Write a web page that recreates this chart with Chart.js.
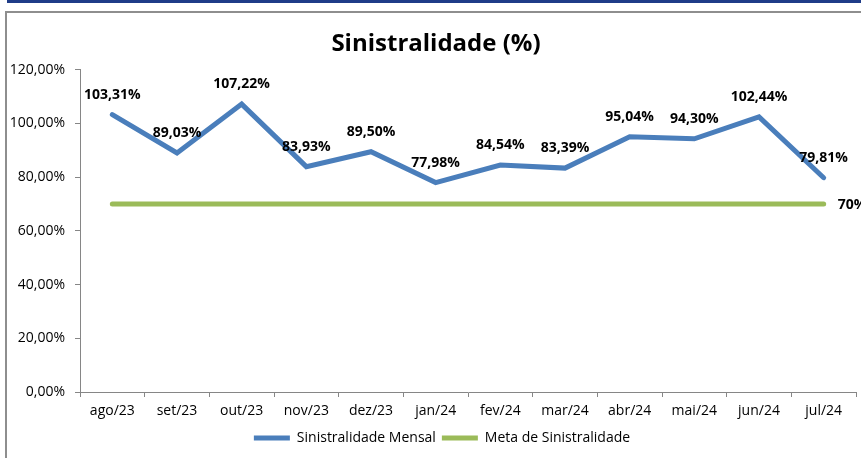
<!DOCTYPE html>
<html lang="pt">
<head>
  <meta charset="UTF-8" />
  <title>Sinistralidade (%)</title>
  <script src="https://cdn.jsdelivr.net/npm/chart.js"></script>
  <style>
    body { margin: 0; background: #fff; }
    #band { position: absolute; left: 7px; right: 0; top: 0; height: 3px; background: #1f3c88; }
    #frame { position: absolute; left: 5px; top: 11px; width: 900px; height: 500px; border: 2px solid #8e8e8e; }
    #chart { position: absolute; left: 0; top: 0; }
  </style>
</head>
<body>
  <div id="band"></div>
  <div id="frame"></div>
  <canvas id="chart" width="861" height="458"></canvas>

  <script>
    const months = ['ago/23', 'set/23', 'out/23', 'nov/23', 'dez/23', 'jan/24', 'fev/24', 'mar/24', 'abr/24', 'mai/24', 'jun/24', 'jul/24'];
    const sinistralidade = [103.31, 89.03, 107.22, 83.93, 89.50, 77.98, 84.54, 83.39, 95.04, 94.30, 102.44, 79.81];
    const meta = [70, 70, 70, 70, 70, 70, 70, 70, 70, 70, 70, 70];
    const yTicks = [0, 20, 40, 60, 80, 100, 120];

    const FONT = "'Open Sans', sans-serif";
    const fmt = v => v.toFixed(2).replace('.', ',') + '%';

    // value labels: above every monthly point, "70%" only at the end of the target line
    const valueLabels = {
      id: 'valueLabels',
      afterDatasetsDraw(chart) {
        const ctx = chart.ctx;
        ctx.save();
        ctx.fillStyle = '#000';
        ctx.font = "bold 14px " + FONT;
        ctx.textBaseline = 'middle';
        ctx.textAlign = 'center';
        chart.getDatasetMeta(0).data.forEach((pt, i) => {
          ctx.fillText(fmt(sinistralidade[i]), pt.x, pt.y - 20);
        });
        const pts = chart.getDatasetMeta(1).data;
        const last = pts[pts.length - 1];
        ctx.textAlign = 'left';
        ctx.fillText(meta[meta.length - 1] + '%', last.x + 14, last.y + 1);
        ctx.restore();
      }
    };

    // title and legend sit a bit right of the canvas centre in the original
    const nudge = {
      id: 'nudge',
      afterLayout(chart) {
        if (chart.titleBlock) { chart.titleBlock.left += 8; chart.titleBlock.right += 8; }
        if (chart.legend) { chart.legend.left += 14; chart.legend.right += 14; }
      }
    };

    new Chart(document.getElementById('chart'), {
      type: 'line',
      data: {
        labels: months,
        datasets: [{
          label: 'Sinistralidade Mensal',
          data: sinistralidade,
          borderColor: '#4a7ebb',
          backgroundColor: '#4a7ebb',
          borderWidth: 5,
          borderCapStyle: 'round',
          pointRadius: 0,
          tension: 0
        }, {
          label: 'Meta de Sinistralidade',
          data: meta,
          borderColor: '#9bbb59',
          backgroundColor: '#9bbb59',
          borderWidth: 5,
          borderCapStyle: 'round',
          pointRadius: 0,
          tension: 0
        }]
      },
      options: {
        responsive: false,
        animation: false,
        layout: { padding: { left: 0, right: 5, bottom: 3 } },
        plugins: {
          title: {
            display: true,
            text: 'Sinistralidade (%)',
            color: '#000',
            font: { family: FONT, size: 24, weight: 'bold' },
            padding: { top: 30, bottom: 11 }
          },
          legend: {
            position: 'bottom',
            labels: {
              color: '#000',
              font: { family: FONT, size: 14 },
              boxWidth: 36,
              boxHeight: 5,
              padding: 6,
              generateLabels(chart) {
                return chart.data.datasets.map((ds, i) => ({
                  text: ds.label,
                  fillStyle: ds.borderColor,
                  strokeStyle: ds.borderColor,
                  lineWidth: 0,
                  datasetIndex: i
                }));
              }
            }
          },
          tooltip: { enabled: false }
        },
        scales: {
          x: {
            offset: true,
            grid: { offset: true, drawOnChartArea: false, tickLength: 5, color: '#868686' },
            border: { color: '#868686' },
            ticks: { color: '#000', font: { family: FONT, size: 14 }, padding: 6, maxRotation: 0 },
            afterFit(scale) { scale.height = 33; }
          },
          y: {
            min: 0,
            max: 120,
            afterBuildTicks(scale) { scale.ticks = yTicks.map(v => ({ value: v })); },
            grid: { drawOnChartArea: false, tickLength: 5, color: '#868686' },
            border: { color: '#868686' },
            ticks: {
              color: '#000',
              font: { family: FONT, size: 14 },
              padding: 10,
              callback: v => fmt(v)
            },
            afterFit(scale) { scale.width = 80; }
          }
        }
      },
      plugins: [valueLabels, nudge]
    });
  </script>
</body>
</html>
